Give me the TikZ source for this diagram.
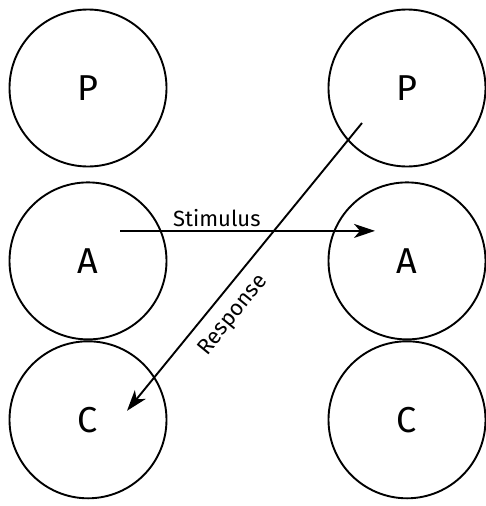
\documentclass[tikz,border=0pt]{standalone}
\usepackage{fontspec}
\setmainfont{Fira Sans}
\usepackage{tikz}
\usetikzlibrary{arrows.meta,positioning,calc}

\begin{document}
\begin{tikzpicture}[
    x=1pt, y=-1pt,
    state/.style={circle, draw, line width=1.9pt, minimum size=157pt,
                  inner sep=0pt, font=\fontsize{36}{40}\selectfont},
    arr/.style={-{Stealth[length=21pt,width=14pt,inset=6pt]}, line width=1.9pt},
    lbl/.style={font=\fontsize{22}{26}\selectfont},
]
    \useasboundingbox (0,0) rectangle (486,506);

    \node[state] (lp) at (88,88) {P};
    \node[state, below=14pt of lp] (la) {A};
    \node[state, below=0pt of la] (lc) {C};

    \node[state] (rp) at (407,88) {P};
    \node[state, below=14pt of rp] (ra) {A};
    \node[state, below=0pt of ra] (rc) {C};

    \coordinate (stimfrom) at ($(la)+(32,-30)$);
    \coordinate (stimto) at ($(ra)+(-32,-30)$);
    \coordinate (respfrom) at ($(rp)+(-45,35)$);
    \coordinate (respto) at ($(lc)+(39,-9)$);

    \draw[arr] (stimfrom) -- node[lbl, above, pos=0.38] {Stimulus} (stimto);
    \draw[arr] (respfrom) -- node[lbl, sloped, below=8pt, pos=0.62] {Response} (respto);
\end{tikzpicture}
\end{document}
